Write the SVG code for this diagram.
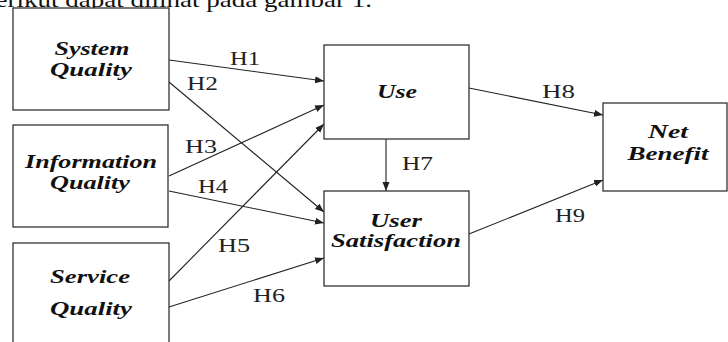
<svg xmlns="http://www.w3.org/2000/svg" width="728" height="342" viewBox="0 0 728 342">
<defs>
<marker id="ah" markerUnits="userSpaceOnUse" markerWidth="10" markerHeight="8" refX="9" refY="3.5" orient="auto">
<path d="M0,0 L9,3.5 L0,7 z" fill="#222"/>
</marker>
<style>
.box{fill:#fff;stroke:#333;stroke-width:1.3}
.lbl{font-family:'Liberation Serif','Times New Roman',Times,serif;font-weight:bold;font-style:italic;font-size:18px;fill:#111;text-anchor:middle}
.h{font-family:'Liberation Serif','Times New Roman',Times,serif;font-size:18px;fill:#222}
.edge{stroke:#222;stroke-width:1.1;fill:none;marker-end:url(#ah)}
.top{font-family:'Liberation Serif','Times New Roman',Times,serif;font-size:22px;fill:#111}
</style>
</defs>
<rect width="728" height="342" fill="#fff"/>
<text class="top" x="372" y="7" text-anchor="end" textLength="390" lengthAdjust="spacingAndGlyphs">berikut dapat dilihat pada gambar 1.</text>

<g id="edges">
<line class="edge" x1="169" y1="60" x2="324" y2="81"/>
<line class="edge" x1="169" y1="82" x2="324" y2="212"/>
<line class="edge" x1="169" y1="176" x2="324" y2="105"/>
<line class="edge" x1="169" y1="191" x2="324" y2="223"/>
<line class="edge" x1="169" y1="281" x2="324" y2="124"/>
<line class="edge" x1="169" y1="307" x2="324" y2="258"/>
<line class="edge" x1="386" y1="139" x2="386" y2="191"/>
<line class="edge" x1="469" y1="88" x2="603" y2="115"/>
<line class="edge" x1="469" y1="234" x2="603" y2="180"/>
<text class="h" x="230" y="65" textLength="30" lengthAdjust="spacingAndGlyphs">H1</text>
<text class="h" x="187" y="90" textLength="31" lengthAdjust="spacingAndGlyphs">H2</text>
<text class="h" x="185" y="153" textLength="32" lengthAdjust="spacingAndGlyphs">H3</text>
<text class="h" x="198" y="193" textLength="30" lengthAdjust="spacingAndGlyphs">H4</text>
<text class="h" x="218" y="252" textLength="32" lengthAdjust="spacingAndGlyphs">H5</text>
<text class="h" x="253" y="302" textLength="32" lengthAdjust="spacingAndGlyphs">H6</text>
<text class="h" x="402" y="170" textLength="31" lengthAdjust="spacingAndGlyphs">H7</text>
<text class="h" x="542" y="98" textLength="33" lengthAdjust="spacingAndGlyphs">H8</text>
<text class="h" x="555" y="222" textLength="30" lengthAdjust="spacingAndGlyphs">H9</text>
</g>

<g id="system-quality">
<rect class="box" x="13" y="8" width="156" height="102"/>
<text class="lbl" x="92" y="55" textLength="75" lengthAdjust="spacingAndGlyphs">System</text>
<text class="lbl" x="91" y="76" textLength="82" lengthAdjust="spacingAndGlyphs">Quality</text>
</g>
<g id="information-quality">
<rect class="box" x="13" y="125" width="155" height="102"/>
<text class="lbl" x="91" y="168" textLength="132" lengthAdjust="spacingAndGlyphs">Information</text>
<text class="lbl" x="90" y="189" textLength="80" lengthAdjust="spacingAndGlyphs">Quality</text>
</g>
<g id="service-quality">
<rect class="box" x="13" y="243" width="156" height="110"/>
<text class="lbl" x="90" y="283" textLength="80" lengthAdjust="spacingAndGlyphs">Service</text>
<text class="lbl" x="91" y="315" textLength="82" lengthAdjust="spacingAndGlyphs">Quality</text>
</g>
<g id="use">
<rect class="box" x="324" y="45" width="145" height="94"/>
<text class="lbl" x="397" y="98" textLength="40" lengthAdjust="spacingAndGlyphs">Use</text>
</g>
<g id="user-satisfaction">
<rect class="box" x="324" y="191" width="145" height="95"/>
<text class="lbl" x="396" y="227" textLength="52" lengthAdjust="spacingAndGlyphs">User</text>
<text class="lbl" x="396" y="247" textLength="130" lengthAdjust="spacingAndGlyphs">Satisfaction</text>
</g>
<g id="net-benefit">
<rect class="box" x="603" y="103" width="124" height="88"/>
<text class="lbl" x="668" y="138" textLength="40" lengthAdjust="spacingAndGlyphs">Net</text>
<text class="lbl" x="668" y="160" textLength="81" lengthAdjust="spacingAndGlyphs">Benefit</text>
</g>
</svg>
